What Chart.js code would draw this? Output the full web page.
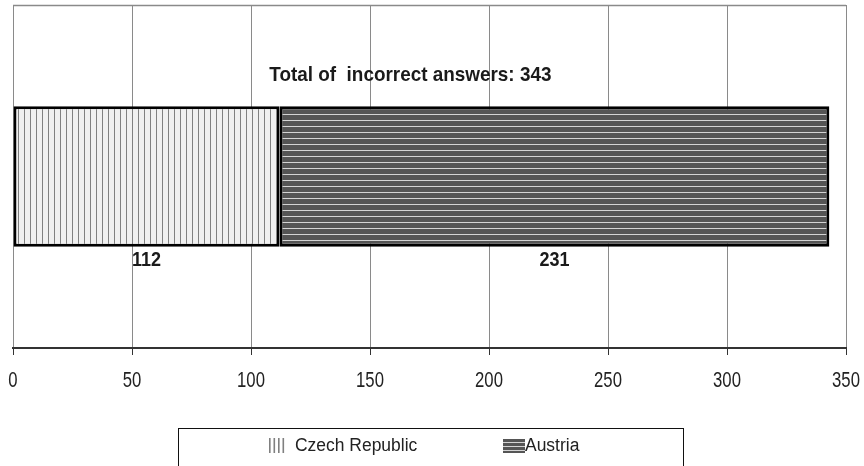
<!DOCTYPE html>
<html>
<head>
<meta charset="utf-8">
<script src="https://cdn.jsdelivr.net/npm/chart.js@4/dist/chart.umd.min.js"></script>
<style>
  html, body { margin: 0; padding: 0; background: #ffffff; }
  #wrap { width: 864px; height: 466px; position: relative; }
</style>
</head>
<body>
<div id="wrap"><canvas id="chart"></canvas></div>
<script>
// Data
const categories = ['Incorrect answers'];
const seriesNames = ['Czech Republic', 'Austria'];
const czechValues = [112];
const austriaValues = [231];
const tickValues = [0, 50, 100, 150, 200, 250, 300, 350];
const totalPrefix = 'Total of  incorrect answers: ';

const FONT = "'Liberation Sans', Arial, sans-serif";

// Text drawn with a horizontal squeeze to get a narrow face
function narrowText(ctx, text, x, y, font, sx, align) {
  ctx.save();
  ctx.font = font;
  ctx.textBaseline = 'middle';
  ctx.textAlign = align || 'center';
  ctx.translate(x, y);
  ctx.scale(sx, 1);
  ctx.fillText(text, 0, 0);
  ctx.restore();
}

// Hatch fills
function verticalHatch() {
  const c = document.createElement('canvas');
  c.width = 6; c.height = 6;
  const g = c.getContext('2d');
  g.fillStyle = '#f0f0f0'; g.fillRect(0, 0, 6, 6);
  g.fillStyle = '#808080'; g.fillRect(0, 0, 1, 6);
  return g.createPattern(c, 'repeat');
}
function horizontalHatch() {
  const c = document.createElement('canvas');
  c.width = 6; c.height = 6;
  const g = c.getContext('2d');
  g.fillStyle = '#555555'; g.fillRect(0, 0, 6, 6);
  g.fillStyle = '#d4d4d4'; g.fillRect(0, 0, 6, 1);
  return g.createPattern(c, 'repeat');
}
const fills = [verticalHatch(), horizontalHatch()];

// Total and segment labels, tick labels, plot frame and boxed legend
const decorations = {
  id: 'decorations',
  beforeDraw(chart) {
    const ctx = chart.ctx;
    ctx.save();
    ctx.fillStyle = '#ffffff';
    ctx.fillRect(0, 0, chart.width, chart.height);
    ctx.restore();
  },
  beforeDatasetsDraw(chart) {
    const { ctx, chartArea: a } = chart;
    ctx.save();
    ctx.strokeStyle = '#8a8a8a';
    ctx.lineWidth = 1.5;
    ctx.beginPath();
    ctx.moveTo(a.left, a.top + 0.5);
    ctx.lineTo(a.right, a.top + 0.5);
    ctx.stroke();
    ctx.restore();
  },
  afterDatasetsDraw(chart) {
    const { ctx, chartArea: a } = chart;
    const xs = chart.scales.x;
    ctx.save();
    ctx.fillStyle = '#1a1a1a';
    let total = 0;
    let barTop = 0;
    chart.data.datasets.forEach((ds, i) => {
      const el = chart.getDatasetMeta(i).data[0];
      const v = ds.data[0];
      total += v;
      const cx = (el.x + el.base) / 2;
      barTop = el.y - el.height / 2;
      narrowText(ctx, String(v), cx, el.y + el.height / 2 + 14, 'bold 20px ' + FONT, 0.9);
    });
    narrowText(ctx, totalPrefix + total, a.left + a.width * 0.477, barTop - 31, 'bold 21px ' + FONT, 0.9);

    // axis tick labels
    ctx.fillStyle = '#222222';
    tickValues.forEach(v => {
      narrowText(ctx, String(v), xs.getPixelForValue(v), 381, '22px ' + FONT, 0.76);
    });

    // legend box
    const bx = 178.5, by = 428.5, bw = 505, bh = 60;
    ctx.strokeStyle = '#111111';
    ctx.lineWidth = 1;
    ctx.strokeRect(bx, by, bw, bh);
    // first entry: vertical hatch swatch
    ctx.fillStyle = '#808080';
    for (let k = 0; k < 4; k++) ctx.fillRect(269 + k * 4.5, 438, 1.6, 15);
    ctx.fillStyle = '#222222';
    narrowText(ctx, seriesNames[0], 295, 446, '18px ' + FONT, 0.97, 'left');
    // second entry: horizontal hatch swatch
    ctx.fillStyle = '#555555';
    ctx.fillRect(503, 439, 22, 14);
    ctx.fillStyle = '#d4d4d4';
    for (let k = 0; k < 3; k++) ctx.fillRect(503, 442 + k * 4, 22, 1);
    ctx.fillStyle = '#222222';
    narrowText(ctx, seriesNames[1], 525, 446, '18px ' + FONT, 0.97, 'left');
    ctx.restore();
  }
};

new Chart(document.getElementById('chart'), {
  type: 'bar',
  data: {
    labels: categories,
    datasets: [
      { label: seriesNames[0], data: czechValues, backgroundColor: fills[0] },
      { label: seriesNames[1], data: austriaValues, backgroundColor: fills[1] }
    ].map(d => Object.assign(d, {
      borderColor: '#000000',
      borderWidth: 3,
      borderSkipped: false,
      barPercentage: 0.41,
      categoryPercentage: 1.0
    }))
  },
  options: {
    indexAxis: 'y',
    responsive: true,
    maintainAspectRatio: false,
    animation: false,
    layout: { padding: { left: 13, right: 18, top: 5, bottom: 0 } },
    plugins: {
      legend: { display: false },
      tooltip: { enabled: false }
    },
    scales: {
      x: {
        stacked: true,
        min: 0,
        max: 350,
        afterBuildTicks(scale) { scale.ticks = tickValues.map(v => ({ value: v })); },
        afterFit(scale) { scale.height = 118; },
        grid: {
          color: '#8a8a8a',
          lineWidth: 1,
          tickLength: 7,
          tickColor: '#333333',
          drawTicks: true
        },
        border: { display: true, color: '#333333', width: 2 },
        ticks: { display: false }
      },
      y: {
        stacked: true,
        display: false
      }
    }
  },
  plugins: [decorations]
});
</script>
</body>
</html>
